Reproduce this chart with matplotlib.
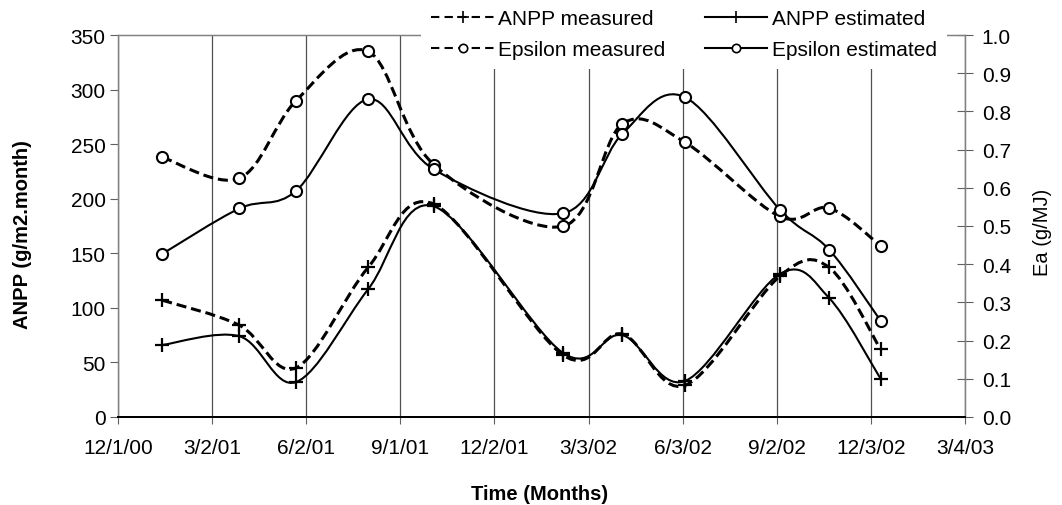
import numpy as np
import pandas as pd
import matplotlib
matplotlib.use('Agg')
import matplotlib.pyplot as plt
import matplotlib.dates as mdates
from matplotlib.path import Path
from matplotlib.patches import PathPatch
from matplotlib.lines import Line2D

plt.rcParams['font.family'] = ['Liberation Sans', 'DejaVu Sans']

# sampling dates and values
dates = ['2001-01-13', '2001-03-29', '2001-05-23', '2001-08-01', '2001-10-04', '2002-02-06',
         '2002-04-05', '2002-06-05', '2002-09-05', '2002-10-23', '2002-12-12']
anpp_measured = [107, 84, 45, 137, 195, 57, 76, 29, 129, 137, 62]
anpp_estimated = [66, 74, 32, 117, 193, 59, 75, 33, 131, 109, 35]
eps_measured = [0.680, 0.625, 0.828, 0.957, 0.660, 0.499, 0.767, 0.719, 0.525, 0.547, 0.448]
eps_estimated = [0.427, 0.546, 0.592, 0.832, 0.648, 0.533, 0.741, 0.837, 0.543, 0.438, 0.252]

tick_labels = ['12/1/00', '3/2/01', '6/2/01', '9/1/01', '12/2/01', '3/3/02',
               '6/3/02', '9/2/02', '12/3/02', '3/4/03']
x_start, x_end = '2000-12-01', '2003-03-04'

x = mdates.date2num(pd.to_datetime(dates))
x0 = mdates.date2num(pd.Timestamp(x_start))
x1 = mdates.date2num(pd.Timestamp(x_end))


def smooth_path(xs, ys):
    # Excel-like smoothed line: cubic bezier through the points (catmull-rom)
    pts = np.column_stack([xs, ys]).astype(float)
    n = len(pts)
    verts = [pts[0]]
    codes = [Path.MOVETO]
    for i in range(n - 1):
        p0 = pts[i - 1] if i > 0 else pts[i]
        p3 = pts[i + 2] if i + 2 < n else pts[i + 1]
        c1 = pts[i] + (pts[i + 1] - p0) / 6
        c2 = pts[i + 1] - (p3 - pts[i]) / 6
        verts += [c1, c2, pts[i + 1]]
        codes += [Path.CURVE4] * 3
    return Path(verts, codes)


dash = (0, (3.3, 1.6))
fig = plt.figure(figsize=(10.62, 5.06), dpi=100)
ax = fig.add_axes([118 / 1062, 88 / 506, 847 / 1062, 382 / 506])
ax2 = ax.twinx()

# ANPP on left axis
ax.add_patch(PathPatch(smooth_path(x, anpp_measured), fill=False, lw=2.2, ls=dash, ec='black'))
ax.add_patch(PathPatch(smooth_path(x, anpp_estimated), fill=False, lw=1.5, ec='black'))
ax.plot(x, anpp_measured, ls='none', marker='+', ms=10, mew=1.6, color='black')
ax.plot(x, anpp_estimated, ls='none', marker='+', ms=10, mew=1.6, color='black')

# Epsilon on right axis
ax2.add_patch(PathPatch(smooth_path(x, eps_measured), fill=False, lw=2.2, ls=dash, ec='black'))
ax2.add_patch(PathPatch(smooth_path(x, eps_estimated), fill=False, lw=1.5, ec='black'))
ax2.plot(x, eps_measured, ls='none', marker='o', ms=8, mew=1.5, mfc='white', color='black')
ax2.plot(x, eps_estimated, ls='none', marker='o', ms=8, mew=1.5, mfc='white', color='black')

ax.set_xlim(x0, x1)
ax.set_ylim(0, 350)
ax2.set_ylim(0, 1.0)
ax.set_xticks(np.linspace(x0, x1, len(tick_labels)))
ax.set_xticklabels(tick_labels)
ax.set_yticks(np.arange(0, 351, 50))
ax2.set_yticks(np.arange(0, 1.01, 0.1))
ax2.set_yticklabels(['%.1f' % v for v in np.arange(0, 1.01, 0.1)])

ax.grid(axis='x', color='#505050', lw=0.9)
ax.set_axisbelow(True)

ax.tick_params(axis='x', direction='out', length=5, width=0.8, color='#606060', labelsize=15, pad=10)
ax.tick_params(axis='y', direction='out', length=6, width=0.8, color='#606060', labelsize=15, pad=3)
ax2.tick_params(axis='y', direction='inout', length=12, width=0.8, color='#606060', labelsize=15, pad=6)

for a in (ax, ax2):
    for s in ('left', 'right', 'top'):
        a.spines[s].set_color('#808080')
        a.spines[s].set_linewidth(0.9)
    a.spines['bottom'].set_color('black')
    a.spines['bottom'].set_linewidth(1.4)

fig.text(23 / 1062, 1 - 235 / 506, 'ANPP (g/m2.month)', rotation=90, ha='center', va='center',
         fontsize=14.5, fontweight='bold')
fig.text(1043 / 1062, 1 - 232 / 506, 'Ea (g/MJ)', rotation=90, ha='center', va='center', fontsize=14.5)
fig.text(540 / 1062, 1 - 495 / 506, 'Time (Months)', ha='center', va='center', fontsize=14.5,
         fontweight='bold')

handles = [
    Line2D([], [], color='black', lw=1.5, ls=(0, (4, 2.5)), marker='+', ms=9, mew=1.2),
    Line2D([], [], color='black', lw=1.5, ls=(0, (4, 2.5)), marker='o', ms=6, mew=1.2, mfc='white'),
    Line2D([], [], color='black', lw=1.5, marker='+', ms=9, mew=1.2),
    Line2D([], [], color='black', lw=1.5, marker='o', ms=6, mew=1.2, mfc='white'),
]
labels = ['ANPP measured', 'Epsilon measured', 'ANPP estimated', 'Epsilon estimated']
fig.legend(handles, labels, loc='upper left', bbox_to_anchor=(421 / 1062, 1.0), ncol=2,
           fontsize=15, frameon=True, facecolor='white', edgecolor='none', framealpha=1,
           fancybox=False, handlelength=3.0, handletextpad=0.2, columnspacing=1.9,
           labelspacing=0.55, borderpad=0.5, borderaxespad=0)

fig.savefig('out.png', dpi=100)
